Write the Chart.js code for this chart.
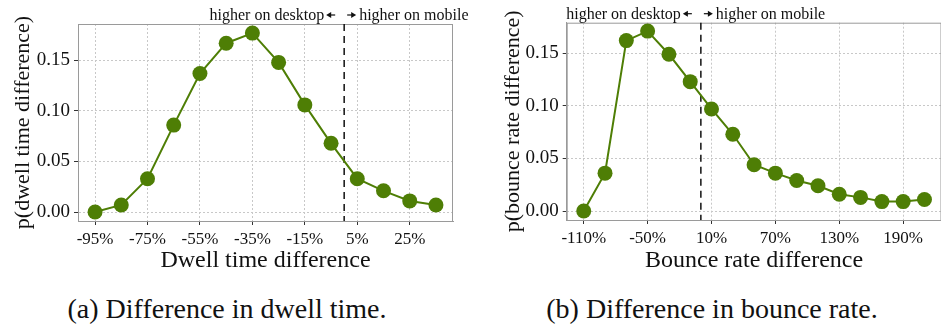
<!DOCTYPE html>
<html>
<head>
<meta charset="utf-8">
<script src="https://cdn.jsdelivr.net/npm/chart.js@4.4.1/dist/chart.umd.min.js"></script>
<style>
    html, body { margin: 0; padding: 0; background: #fff; overflow: hidden; }
    body { width: 941px; height: 327px; position: relative; font-family: 'Liberation Serif', serif; }
    .panel { position: absolute; top: 0; }
    .caption { position: absolute; top: 293px; font-size: 28px; line-height: 32px; color: #111; white-space: nowrap; transform: translateX(-50%); }
</style>
</head>
<body>
<div class="panel" style="left:0px"><canvas id="dwell_chart" width="470" height="280"></canvas></div>
<div class="panel" style="left:470px"><canvas id="bounce_chart" width="490" height="280"></canvas></div>
<div class="caption" style="left:227px">(a) Difference in dwell time.</div>
<div class="caption" style="left:712px">(b) Difference in bounce rate.</div>

<script>
// DATA
const dwell_x = [-95, -85, -75, -65, -55, -45, -35, -25, -15, -5, 5, 15, 25, 35];
const dwell_p = [0.000, 0.007, 0.033, 0.086, 0.137, 0.167, 0.177, 0.148, 0.106, 0.068, 0.033, 0.021, 0.011, 0.007];
const dwell_ticks = [-95, -75, -55, -35, -15, 5, 25];

const bounce_x = [-110, -90, -70, -50, -30, -10, 10, 30, 50, 70, 90, 110, 130, 150, 170, 190, 210];
const bounce_p = [0.000, 0.036, 0.162, 0.171, 0.149, 0.123, 0.097, 0.073, 0.044, 0.036, 0.029, 0.024, 0.016, 0.013, 0.009, 0.009, 0.011];
const bounce_ticks = [-110, -50, 10, 70, 130, 190];

const p_ticks = [0, 0.05, 0.10, 0.15];

const green = '#4e7e05';
const serif = "'Liberation Serif', serif";


// box, dashed zero line and the desktop / mobile note
const guide_plugin = {
    id: 'guide',
    beforeDatasetsDraw(chart) {
        const ctx = chart.ctx;
        const a = chart.chartArea;
        const x0 = chart.scales.x.getPixelForValue(0);

        ctx.save();
        ctx.strokeStyle = '#9a9a9a';
        ctx.lineWidth = 1;
        ctx.strokeRect(a.left + 0.5, a.top + 0.5, a.right - a.left - 1, a.bottom - a.top);

        ctx.strokeStyle = '#111';
        ctx.lineWidth = 1.5;
        ctx.setLineDash([7, 5]);
        ctx.beginPath();
        ctx.moveTo(x0, a.top);
        ctx.lineTo(x0, a.bottom);
        ctx.stroke();
        ctx.restore();
    },
    afterDraw(chart) {
        const ctx = chart.ctx;
        const a = chart.chartArea;
        const x0 = chart.scales.x.getPixelForValue(0);
        const ya = a.top - 9;

        ctx.save();
        ctx.fillStyle = '#111';
        ctx.strokeStyle = '#111';
        ctx.font = '16px ' + serif;
        ctx.textBaseline = 'alphabetic';
        ctx.textAlign = 'right';
        ctx.fillText('higher on desktop', x0 - 20, a.top - 4);
        ctx.textAlign = 'left';
        ctx.fillText('higher on mobile', x0 + 15, a.top - 4);

        const arrow = (from, to) => {
            const dir = Math.sign(to - from);
            ctx.lineWidth = 1.2;
            ctx.beginPath();
            ctx.moveTo(from, ya);
            ctx.lineTo(to - dir * 3, ya);
            ctx.stroke();
            ctx.beginPath();
            ctx.moveTo(to, ya);
            ctx.lineTo(to - dir * 5, ya - 3);
            ctx.lineTo(to - dir * 5, ya + 3);
            ctx.closePath();
            ctx.fill();
        };
        arrow(x0 - 9, x0 - 18);
        arrow(x0 + 3, x0 + 12);
        ctx.restore();
    }
};


function make_chart(id, xs, ps, x_ticks, cfg) {
    const axis_grid = {
        color: '#c8c8c8',
        lineWidth: 1,
        tickColor: '#333',
        tickLength: 4,
        tickBorderDash: []
    };
    const axis_border = {
        display: true,
        color: '#9a9a9a',
        width: 1,
        dash: [2, 2]
    };

    return new Chart(document.getElementById(id), {
        type: 'line',
        data: {
            datasets: [{
                data: xs.map((x, i) => ({x: x, y: ps[i]})),
                borderColor: green,
                backgroundColor: green,
                pointBackgroundColor: green,
                pointBorderWidth: 0,
                pointRadius: 7.5,
                borderWidth: 2,
                tension: 0,
                fill: false
            }]
        },
        options: {
            responsive: false,
            animation: false,
            devicePixelRatio: 1,
            layout: {
                padding: {left: 0, right: cfg.pad_right, top: cfg.pad_top, bottom: 5}
            },
            plugins: {
                legend: {display: false},
                tooltip: {enabled: false}
            },
            scales: {
                x: {
                    type: 'linear',
                    min: cfg.x_min,
                    max: cfg.x_max,
                    grid: axis_grid,
                    border: axis_border,
                    afterBuildTicks: scale => { scale.ticks = x_ticks.map(v => ({value: v})); },
                    afterFit: scale => { scale.height = cfg.x_height; },
                    ticks: {
                        padding: 4,
                        color: '#111',
                        font: {family: serif, size: 17},
                        callback: v => v + '%'
                    },
                    title: {
                        display: true,
                        text: cfg.x_title,
                        color: '#111',
                        font: {family: serif, size: 24},
                        padding: 0
                    }
                },
                y: {
                    min: cfg.y_min,
                    max: cfg.y_max,
                    grid: axis_grid,
                    border: axis_border,
                    afterBuildTicks: scale => { scale.ticks = p_ticks.map(v => ({value: v})); },
                    afterFit: scale => { scale.width = cfg.y_width; },
                    ticks: {
                        padding: 4,
                        color: '#111',
                        font: {family: serif, size: 19},
                        callback: v => v.toFixed(2)
                    },
                    title: {
                        display: true,
                        text: cfg.y_title,
                        color: '#111',
                        font: {family: serif, size: 22},
                        padding: {top: cfg.y_title_pad, bottom: 0}
                    }
                }
            }
        },
        plugins: [guide_plugin]
    });
}


make_chart('dwell_chart', dwell_x, dwell_p, dwell_ticks, {
    x_min: -101.5, x_max: 41.5,
    y_min: -0.00886, y_max: 0.186,
    pad_right: 17, pad_top: 24,
    x_height: 54, y_width: 78, y_title_pad: 10,
    x_title: 'Dwell time difference',
    y_title: 'p(dwell time difference)'
});

make_chart('bounce_chart', bounce_x, bounce_p, bounce_ticks, {
    x_min: -126, x_max: 226,
    y_min: -0.0085, y_max: 0.179,
    pad_right: 18.5, pad_top: 22.7,
    x_height: 55, y_width: 96.7, y_title_pad: 30,
    x_title: 'Bounce rate difference',
    y_title: 'p(bounce rate difference)'
});
</script>
</body>
</html>
